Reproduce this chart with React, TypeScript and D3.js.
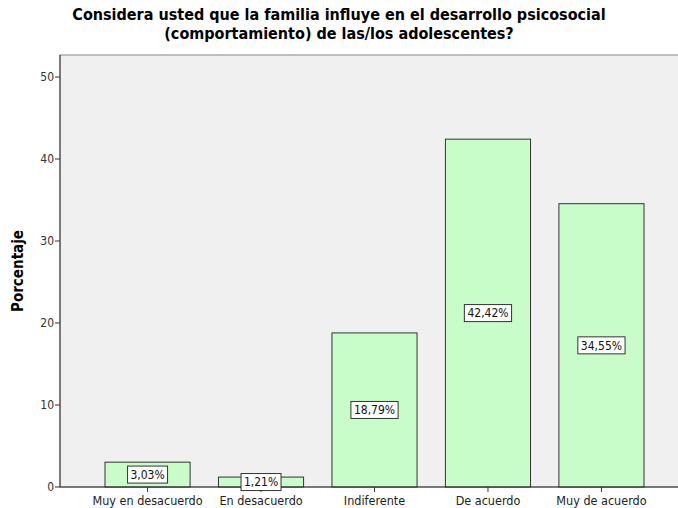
import React from 'react';
import * as d3 from 'd3';

const categories = ['Muy en desacuerdo', 'En desacuerdo', 'Indiferente', 'De acuerdo', 'Muy de acuerdo'];
const percentages = [3.03, 1.21, 18.79, 42.42, 34.55];
const yTicks = [0, 10, 20, 30, 40, 50];
const titleLines = [
  'Considera usted que la familia influye en el desarrollo psicosocial',
  '(comportamiento) de las/los adolescentes?',
];

const W = 678;
const H = 508;
const font = '"DejaVu Sans Condensed", "DejaVu Sans", sans-serif';

const App = () => {
  const frame = { left: 60, top: 55, right: 680, bottom: 487 };

  const x = d3.scaleBand<string>()
    .domain(categories)
    .range([105, 644])
    .paddingInner(0.25)
    .paddingOuter(0);

  const y = d3.scaleLinear().domain([0, 50]).range([487, 77]);

  const fmt = (v: number) => v.toFixed(2).replace('.', ',') + '%';

  return (
    <svg width={W} height={H} style={{ position: 'absolute', left: 0, top: 0 }} fontFamily={font}>
      <rect width={W} height={H} fill="#fff" />
      {titleLines.map((t, i) => (
        <text key={i} x={339} y={20 + i * 18.5} textAnchor="middle" fontSize={16} fontWeight="bold" fill="#000">
          {t}
        </text>
      ))}

      {/* plot frame */}
      <rect x={frame.left} y={frame.top} width={frame.right - frame.left} height={frame.bottom - frame.top}
        fill="#f0f0f0" stroke="#888" strokeWidth={1} />

      {/* bars */}
      {categories.map((c, i) => (
        <rect key={c} x={x(c)} y={y(percentages[i])} width={x.bandwidth()} height={y(0) - y(percentages[i])}
          fill="#c8fcc8" stroke="#333" strokeWidth={1} />
      ))}

      {/* axes */}
      <line x1={frame.left} x2={frame.left} y1={frame.top} y2={frame.bottom} stroke="#333" />
      <line x1={frame.left} x2={W} y1={frame.bottom} y2={frame.bottom} stroke="#333" />
      {yTicks.map(t => (
        <g key={t} transform={`translate(${frame.left},${y(t)})`}>
          <line x1={-5} x2={0} stroke="#333" />
          <text x={-6} dy="0.35em" textAnchor="end" fontSize={12} fill="#333">{t}</text>
        </g>
      ))}
      {categories.map(c => {
        const cx = (x(c) ?? 0) + x.bandwidth() / 2;
        return (
          <g key={c} transform={`translate(${cx},${frame.bottom})`}>
            <line y1={0} y2={5} stroke="#333" />
            <text y={18} textAnchor="middle" fontSize={12.5} fill="#222">{c}</text>
          </g>
        );
      })}

      <text transform={`translate(23,${(frame.top + frame.bottom) / 2}) rotate(-90)`} textAnchor="middle"
        fontSize={15} fontWeight="bold" fill="#000">Porcentaje</text>

      {/* value labels */}
      {categories.map((c, i) => {
        const cx = (x(c) ?? 0) + x.bandwidth() / 2;
        const cy = (y(0) + y(percentages[i])) / 2;
        const label = fmt(percentages[i]);
        const bw = label.length * 7.2 + 4;
        return (
          <g key={c} transform={`translate(${cx},${cy})`}>
            <rect x={-bw / 2} y={-8.5} width={bw} height={17} fill="#fff" stroke="#333" />
            <text dy="0.36em" textAnchor="middle" fontSize={12} fill="#111">{label}</text>
          </g>
        );
      })}
    </svg>
  );
};

export default App;
